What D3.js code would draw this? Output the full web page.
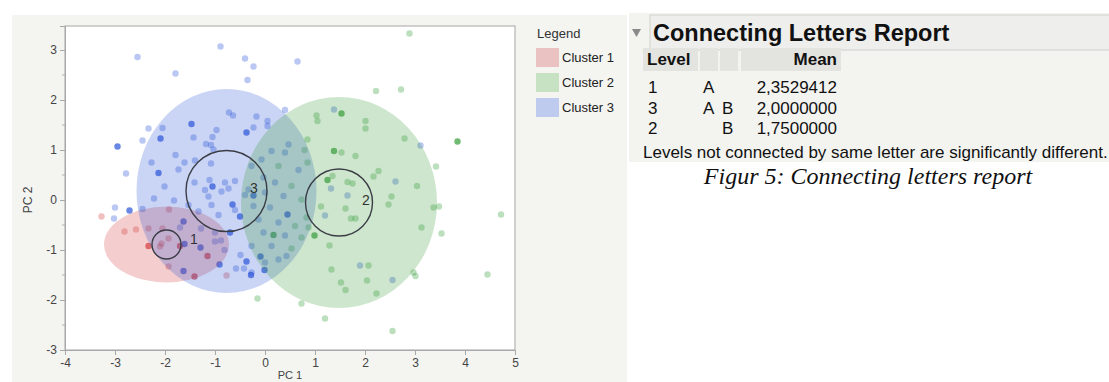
<!DOCTYPE html>
<html>
<head>
<meta charset="utf-8">
<script src="https://cdn.jsdelivr.net/npm/d3@7"></script>
<style>
  html, body { margin: 0; padding: 0; background: #ffffff; }
  svg { display: block; }
</style>
</head>
<body>
<svg id="chart" width="1109" height="382"></svg>
<script>
// ---------- DATA ----------
const clusterNames = ["Cluster 1", "Cluster 2", "Cluster 3"];
const clusterLabels = ["1", "2", "3"];
// ellipse (density contour) centres and radii in data units
const ellipseCX = [-1.97, 1.48, -0.77];
const ellipseCY = [-0.89, -0.05, 0.18];
const ellipseRX = [1.25, 1.96, 1.80];
const ellipseRY = [0.76, 2.11, 2.04];
// inner mean circles
const circleR = [0.29, 0.67, 0.81];
const labelX = [-1.42, 2.02, -0.22];
const labelY = [-0.78, 0.0, 0.24];
// points [PC1, PC2, count]
const cluster1Points = [
  [-3.27,-0.33,1],[-2.81,-0.63,1],[-2.58,-0.59,1],[-2.33,-0.92,3],[-1.70,-0.92,3],
  [-1.15,-1.12,3],[-1.41,-1.53,3],[-2.07,-0.87,1],[-2.10,-0.93,1],[-1.93,-0.77,1],
  [-1.92,-0.19,1],[-1.93,-1.33,1],[-0.77,-1.51,1],[-2.33,-0.57,1],[-2.05,-0.57,1]
];
const cluster2Points = [
  [2.89,3.33,1],[2.22,2.18,1],[2.72,2.21,1],[1.53,1.73,3],[1.03,1.69,1],[1.05,1.58,1],
  [2.01,1.58,1],[2.01,1.43,1],[2.79,1.23,1],[3.85,1.17,3],[1.38,0.98,3],[1.53,0.95,1],
  [1.81,0.88,1],[0.85,1.21,1],[3.42,0.67,1],[2.27,0.58,1],[2.17,0.47,1],[1.25,0.40,3],
  [1.35,0.48,1],[1.65,0.36,1],[1.75,0.33,1],[3.04,0.28,1],[2.53,0.07,1],[2.47,-0.09,1],
  [1.12,-0.13,1],[1.61,-0.17,1],[1.72,-0.37,1],[1.81,-0.37,1],[3.37,-0.15,1],[3.48,-0.13,1],
  [4.72,-0.29,1],[3.13,-0.55,1],[3.53,-0.67,1],[0.99,-0.71,3],[0.17,-0.70,3],[1.29,-0.91,1],
  [1.33,-1.39,1],[2.07,-1.31,1],[1.52,-1.65,1],[1.61,-1.80,1],[2.04,-1.61,1],[2.23,-1.87,1],
  [2.97,-1.45,1],[3.01,-1.52,1],[4.45,-1.49,1],[0.73,-2.07,1],[1.20,-2.37,1],[2.55,-2.62,1],
  [-0.15,-1.97,1],[0.85,0.75,1],[0.79,1.00,1],[0.53,0.28,1],[0.73,0.01,1],[0.87,-0.55,1],
  [0.60,-0.52,1],[0.73,-0.75,1],[0.53,-0.97,1],[0.83,-0.35,1],[0.27,0.68,1]
];
const cluster3Points = [
  [-2.55,2.86,1],[-0.89,3.07,1],[-0.40,2.83,1],[-0.23,2.67,1],[-0.35,2.40,1],[-1.79,2.53,1],
  [-0.72,1.75,1],[-0.64,1.69,1],[-1.47,1.52,3],[-0.37,1.35,3],[-0.23,1.45,1],[-2.33,1.43,1],
  [-2.05,1.44,1],[-2.09,1.23,3],[-2.45,1.19,1],[-2.95,1.07,3],[-1.43,1.25,1],[-0.97,1.40,1],
  [-1.05,1.26,1],[-1.18,1.12,1],[-1.08,1.10,1],[-1.03,1.01,1],[-1.79,0.90,1],[-2.27,0.75,1],
  [-1.61,0.75,1],[-1.40,0.79,1],[-1.08,0.73,1],[-1.73,0.61,1],[-2.13,0.54,3],[-2.78,0.53,1],
  [-2.01,0.27,1],[-1.05,0.27,3],[-1.11,0.40,1],[-0.80,0.35,1],[-0.60,0.38,1],[-1.41,0.35,1],
  [-1.82,-0.01,1],[-2.22,0.03,1],[-0.65,-0.09,3],[-0.50,-0.33,3],[-0.70,-0.65,3],[-3.00,-0.15,1],
  [-2.71,-0.21,3],[-3.02,-0.37,1],[-2.45,-0.18,1],[-1.61,-0.88,3],[-1.63,-0.43,3],[-1.70,-0.55,1],
  [-1.28,-0.57,1],[-1.29,-0.95,3],[-0.91,-1.29,3],[-1.00,-0.83,1],[-0.88,-0.81,1],[-0.81,-1.00,1],
  [-1.63,-1.42,3],[-0.49,-1.10,1],[-0.58,-1.37,1],[-0.42,-1.37,1],[-0.28,-1.50,3],[-0.37,-1.23,3],
  [-1.00,-0.65,1],[0.65,2.77,1],[1.38,1.81,1],[3.11,1.09,1],[1.32,0.23,1],[2.61,0.37,1],
  [1.65,0.09,1],[1.20,-0.31,1],[1.90,-1.31,1],[2.55,-1.60,1],[0.40,1.80,1],[0.05,1.58,1],
  [0.05,1.48,1],[-0.17,1.67,1],[0.45,-0.29,3],[-0.09,-1.13,3],[-0.01,-1.40,3],[-0.23,0.09,3],
  [0.47,1.11,1],[0.40,0.95,1],[0.13,0.98,1],[-0.07,0.81,1],[0.67,0.60,1],[-0.27,0.68,1],
  [-0.03,0.45,1],[0.20,0.35,1],[-0.33,0.21,1],[0.00,0.15,1],[0.37,0.08,1],[-0.23,-0.12,1],
  [0.10,-0.15,1],[-0.13,-0.39,1],[0.27,-0.45,1],[-0.03,-0.65,1],[0.40,-0.71,1],[-0.27,-0.92,1],
  [0.13,-0.92,1],[0.27,-1.19,1],[0.43,-1.12,1],[0.00,-1.25,1],[-0.27,-1.45,1],
  [-1.20,0.20,1],[-1.13,0.07,1],[-0.87,0.17,1],[-0.73,0.23,1],[-0.40,0.10,1],[-0.60,-0.20,1],
  [-0.93,-0.30,1],[-1.33,-0.23,1],[-1.07,-0.10,1],[-1.53,-0.10,1]
];
const xTicks = [-4,-3,-2,-1,0,1,2,3,4,5];
const yTicks = [-3,-2,-1,0,1,2,3];
// connecting letters report
const reportLevels = ["1", "3", "2"];
const reportLetterA = ["A", "A", ""];
const reportLetterB = ["", "B", "B"];
const reportMeans = ["2,3529412", "2,0000000", "1,7500000"];

// ---------- DRAW ----------
const svg = d3.select("#chart");
const font = "'Liberation Sans', Arial, Helvetica, sans-serif";
const pointColors = ["#d43c3c", "#2f9a35", "#2450d8"];
const fillColors = ["#d43c3c", "#3c9a3c", "#2c55d8"];
const swatchColors = ["#ebc2c2", "#c7e2c3", "#bfcbee"];

// panels
svg.append("rect").attr("x", 12).attr("y", 15).attr("width", 615).attr("height", 367).attr("fill", "#f4f4f1");
svg.append("rect").attr("x", 629).attr("y", 13).attr("width", 480).attr("height", 149).attr("fill", "#f3f3f0");

const x = d3.scaleLinear().domain([-4, 5]).range([65, 515]);
const y = d3.scaleLinear().domain([-3, 3.48]).range([350, 26]);

// plot frame
svg.append("rect").attr("x", 65).attr("y", 26).attr("width", 450).attr("height", 324)
  .attr("fill", "#ffffff");

const clip = svg.append("clipPath").attr("id", "clipPlot");
clip.append("rect").attr("x", 65).attr("y", 26).attr("width", 450).attr("height", 324);
const plot = svg.append("g").attr("clip-path", "url(#clipPlot)");

const allPoints = [cluster1Points, cluster2Points, cluster3Points];
const baseAlpha = 0.32;
allPoints.forEach((pts, i) => {
  plot.append("g").selectAll("circle").data(pts).join("circle")
    .attr("cx", d => x(d[0])).attr("cy", d => y(d[1])).attr("r", 3.2)
    .attr("fill", pointColors[i])
    .attr("fill-opacity", d => 1 - Math.pow(1 - baseAlpha, d[2]));
});

// ellipses drawn over the points
[0, 2, 1].forEach(i => {
  plot.append("ellipse")
    .attr("cx", x(ellipseCX[i])).attr("cy", y(ellipseCY[i]))
    .attr("rx", x(ellipseCX[i] + ellipseRX[i]) - x(ellipseCX[i]))
    .attr("ry", y(ellipseCY[i]) - y(ellipseCY[i] + ellipseRY[i]))
    .attr("fill", fillColors[i]).attr("fill-opacity", 0.25);
});

// mean circles
clusterLabels.forEach((lab, i) => {
  plot.append("ellipse")
    .attr("cx", x(ellipseCX[i])).attr("cy", y(ellipseCY[i]))
    .attr("rx", x(ellipseCX[i] + circleR[i]) - x(ellipseCX[i]))
    .attr("ry", y(ellipseCY[i]) - y(ellipseCY[i] + circleR[i]))
    .attr("fill", "none").attr("stroke", "#3a3d45").attr("stroke-width", 1.4);
  plot.append("text").attr("x", x(labelX[i])).attr("y", y(labelY[i]))
    .attr("text-anchor", "middle").attr("dominant-baseline", "central")
    .attr("font-family", font).attr("font-size", 14).attr("fill", "#333")
    .text(lab);
});

svg.append("rect").attr("x", 65).attr("y", 26).attr("width", 450).attr("height", 324)
  .attr("fill", "none").attr("stroke", "#b4b4b4").attr("stroke-width", 1.2);

// axes
const fmt = d => String(d);
const xAxis = d3.axisBottom(x).tickValues(xTicks).tickSize(5).tickPadding(3).tickFormat(fmt);
const gx = svg.append("g").attr("transform", "translate(0,350)").call(xAxis);
const yAxis = d3.axisLeft(y).tickValues(yTicks).tickSize(5).tickPadding(3).tickFormat(fmt);
const gy = svg.append("g").attr("transform", "translate(65,0)").call(yAxis);
[gx, gy].forEach(g => {
  g.select(".domain").attr("stroke", "#a8a8a8");
  g.selectAll(".tick line").attr("stroke", "#a8a8a8");
  g.selectAll(".tick text").attr("font-family", font).attr("font-size", 12).attr("fill", "#444");
});
// minor ticks on y
const yMinor = d3.range(-2.5, 3.5, 1);
svg.append("g").selectAll("line").data(yMinor).join("line")
  .attr("x1", 62).attr("x2", 65).attr("y1", d => y(d)).attr("y2", d => y(d))
  .attr("stroke", "#b0b0b0");

svg.append("text").attr("transform", "translate(32,200) rotate(-90)")
  .attr("text-anchor", "middle").attr("font-family", font).attr("font-size", 12).attr("fill", "#444")
  .text("PC 2");
svg.append("text").attr("x", 290).attr("y", 379)
  .attr("text-anchor", "middle").attr("font-family", font).attr("font-size", 11).attr("fill", "#444")
  .text("PC 1");

// legend
svg.append("text").attr("x", 537).attr("y", 38).attr("font-family", font).attr("font-size", 13)
  .attr("fill", "#333").text("Legend");
const leg = svg.append("g").selectAll("g").data(clusterNames).join("g")
  .attr("transform", (d, i) => `translate(536,${48 + i * 25})`);
leg.append("rect").attr("width", 23).attr("height", 19).attr("fill", (d, i) => swatchColors[i]);
leg.append("text").attr("x", 26).attr("y", 14).attr("font-family", font).attr("font-size", 13)
  .attr("fill", "#222").text(d => d);

// report
svg.append("path").attr("d", "M632,29 L641,29 L636.5,37 Z").attr("fill", "#8a8a8a");
svg.append("rect").attr("x", 650).attr("y", 15).attr("width", 470).attr("height", 35)
  .attr("fill", "#eeeeec").attr("stroke", "#cfcfcc");
svg.append("text").attr("x", 653).attr("y", 41).attr("font-family", font).attr("font-weight", "bold")
  .attr("font-size", 23.5).attr("fill", "#111").text("Connecting Letters Report");

const headerCells = [[643, 55, "Level", "start", 647], [700, 18, "", "start", 0], [720, 18, "", "start", 0], [741, 100, "Mean", "end", 837]];
headerCells.forEach(c => {
  svg.append("rect").attr("x", c[0]).attr("y", 48).attr("width", c[1]).attr("height", 23).attr("fill", "#e3e3e0");
  if (c[2]) svg.append("text").attr("x", c[4]).attr("y", 65).attr("text-anchor", c[3])
    .attr("font-family", font).attr("font-weight", "bold").attr("font-size", 17).attr("fill", "#111").text(c[2]);
});
reportLevels.forEach((lv, i) => {
  const by = 93 + i * 20.5;
  const t = (xx, s, anchor) => svg.append("text").attr("x", xx).attr("y", by).attr("text-anchor", anchor || "start")
    .attr("font-family", font).attr("font-size", 17).attr("fill", "#111").text(s);
  t(648, lv);
  t(703, reportLetterA[i]);
  t(722, reportLetterB[i]);
  t(837, reportMeans[i], "end");
});
svg.append("text").attr("x", 643).attr("y", 158).attr("font-family", font).attr("font-size", 17)
  .attr("fill", "#111").text("Levels not connected by same letter are significantly different.");
svg.append("text").attr("x", 868).attr("y", 184).attr("text-anchor", "middle")
  .attr("font-family", "'Liberation Serif', 'Times New Roman', serif").attr("font-style", "italic")
  .attr("font-size", 24).attr("fill", "#111").text("Figur 5: Connecting letters report");
</script>
</body>
</html>
